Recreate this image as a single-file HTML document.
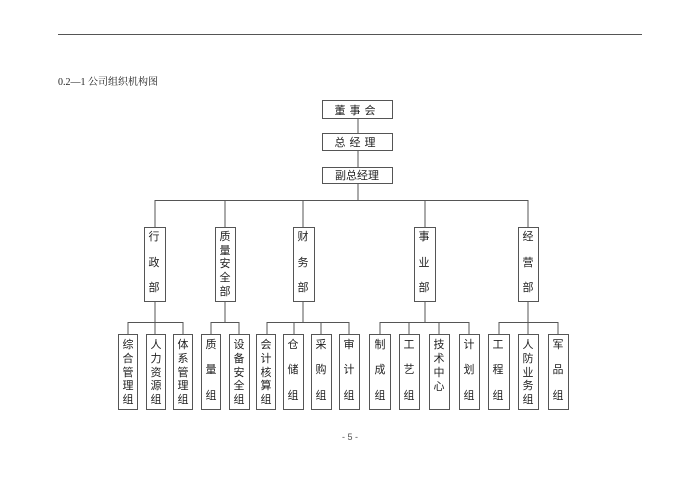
<!DOCTYPE html>
<html><head><meta charset="utf-8"><style>
html,body{margin:0;padding:0;background:#fff;}
svg{display:block;}
text{font-family:"Liberation Sans","Noto Sans CJK SC",sans-serif;fill:#222;}
.c{font-size:11px;text-anchor:middle;}
.r{font-size:6px;fill:#888;}
</style></head><body>
<svg width="700" height="494" viewBox="0 0 700 494" xmlns="http://www.w3.org/2000/svg">
<line x1="58" y1="34.5" x2="642" y2="34.5" stroke="#555" stroke-width="1"/>
<text x="58" y="85" style="font-size:10px;font-family:'Liberation Serif','Noto Serif CJK SC',serif">0.2—1 公司组织机构图</text>
<text x="350" y="440" style="font-size:9px;text-anchor:middle;fill:#555">- 5 -</text>

<g stroke="#555" stroke-width="1" fill="none">
<line x1="358" y1="118" x2="358" y2="133"/>
<line x1="358" y1="150" x2="358" y2="167"/>
<line x1="358" y1="183" x2="358" y2="200"/>
<line x1="155" y1="200.5" x2="528" y2="200.5"/>
<line x1="155" y1="200" x2="155" y2="227"/>
<line x1="225" y1="200" x2="225" y2="227"/>
<line x1="303" y1="200" x2="303" y2="227"/>
<line x1="425" y1="200" x2="425" y2="227"/>
<line x1="528" y1="200" x2="528" y2="227"/>
<line x1="155" y1="301" x2="155" y2="334"/>
<line x1="225" y1="301" x2="225" y2="322"/>
<line x1="303" y1="301" x2="303" y2="322"/>
<line x1="425" y1="301" x2="425" y2="322"/>
<line x1="528" y1="301" x2="528" y2="334"/>
<line x1="128" y1="322.5" x2="183" y2="322.5"/>
<line x1="211" y1="322.5" x2="239" y2="322.5"/>
<line x1="267" y1="322.5" x2="349" y2="322.5"/>
<line x1="380" y1="322.5" x2="469" y2="322.5"/>
<line x1="499" y1="322.5" x2="558" y2="322.5"/>
<line x1="128" y1="322" x2="128" y2="334"/>
<line x1="183" y1="322" x2="183" y2="334"/>
<line x1="211" y1="322" x2="211" y2="334"/>
<line x1="239" y1="322" x2="239" y2="334"/>
<line x1="267" y1="322" x2="267" y2="334"/>
<line x1="294" y1="322" x2="294" y2="334"/>
<line x1="321" y1="322" x2="321" y2="334"/>
<line x1="349" y1="322" x2="349" y2="334"/>
<line x1="380" y1="322" x2="380" y2="334"/>
<line x1="409" y1="322" x2="409" y2="334"/>
<line x1="439" y1="322" x2="439" y2="334"/>
<line x1="469" y1="322" x2="469" y2="334"/>
<line x1="499" y1="322" x2="499" y2="334"/>
<line x1="558" y1="322" x2="558" y2="334"/>

<rect x="322.5" y="100.5" width="70" height="18"/>
<rect x="322.5" y="133.5" width="70" height="17"/>
<rect x="322.5" y="167.5" width="70" height="16"/>

<rect x="144.5" y="227.5" width="21" height="74"/>
<rect x="215.5" y="227.5" width="20" height="74"/>
<rect x="293.5" y="227.5" width="21" height="74"/>
<rect x="414.5" y="227.5" width="21" height="74"/>
<rect x="518.5" y="227.5" width="20" height="74"/>

<rect x="118.5" y="334.5" width="19" height="75"/>
<rect x="146.5" y="334.5" width="19" height="75"/>
<rect x="173.5" y="334.5" width="19" height="75"/>
<rect x="201.5" y="334.5" width="19" height="75"/>
<rect x="229.5" y="334.5" width="20" height="75"/>
<rect x="256.5" y="334.5" width="19" height="75"/>
<rect x="283.5" y="334.5" width="20" height="75"/>
<rect x="311.5" y="334.5" width="20" height="75"/>
<rect x="339.5" y="334.5" width="20" height="75"/>
<rect x="369.5" y="334.5" width="21" height="75"/>
<rect x="399.5" y="334.5" width="20" height="75"/>
<rect x="429.5" y="334.5" width="20" height="75"/>
<rect x="459.5" y="334.5" width="20" height="75"/>
<rect x="488.5" y="334.5" width="21" height="75"/>
<rect x="518.5" y="334.5" width="20" height="75"/>
<rect x="548.5" y="334.5" width="20" height="75"/>
</g>

<text class="c" x="357" y="114" style="letter-spacing:4px">董事会</text>
<text class="c" x="357" y="146" style="letter-spacing:4px">总经理</text>
<text class="c" x="357" y="179">副总经理</text>

<!-- dept 3-char -->
<g class="c">
<text class="c" x="154" y="240">行</text><text class="c" x="154" y="266">政</text><text class="c" x="154" y="291">部</text>
<text class="c" x="225" y="240">质</text><text class="c" x="225" y="254">量</text><text class="c" x="225" y="267">安</text><text class="c" x="225" y="281">全</text><text class="c" x="225" y="295">部</text>
<text class="c" x="303" y="240">财</text><text class="c" x="303" y="266">务</text><text class="c" x="303" y="291">部</text>
<text class="c" x="424" y="240">事</text><text class="c" x="424" y="266">业</text><text class="c" x="424" y="291">部</text>
<text class="c" x="528" y="240">经</text><text class="c" x="528" y="266">营</text><text class="c" x="528" y="291">部</text>
</g>

<!-- sub 5-char -->
<text class="c" x="128" y="348">综</text><text class="c" x="128" y="362">合</text><text class="c" x="128" y="376">管</text><text class="c" x="128" y="389">理</text><text class="c" x="128" y="403">组</text>
<text class="c" x="156" y="348">人</text><text class="c" x="156" y="362">力</text><text class="c" x="156" y="376">资</text><text class="c" x="156" y="389">源</text><text class="c" x="156" y="403">组</text>
<text class="c" x="183" y="348">体</text><text class="c" x="183" y="362">系</text><text class="c" x="183" y="376">管</text><text class="c" x="183" y="389">理</text><text class="c" x="183" y="403">组</text>
<text class="c" x="239" y="348">设</text><text class="c" x="239" y="362">备</text><text class="c" x="239" y="376">安</text><text class="c" x="239" y="389">全</text><text class="c" x="239" y="403">组</text>
<text class="c" x="266" y="348">会</text><text class="c" x="266" y="362">计</text><text class="c" x="266" y="376">核</text><text class="c" x="266" y="389">算</text><text class="c" x="266" y="403">组</text>
<text class="c" x="528" y="348">人</text><text class="c" x="528" y="362">防</text><text class="c" x="528" y="376">业</text><text class="c" x="528" y="389">务</text><text class="c" x="528" y="403">组</text>
<text class="c" x="439" y="348">技</text><text class="c" x="439" y="362">术</text><text class="c" x="439" y="376">中</text><text class="c" x="439" y="390">心</text>

<!-- sub 3-char -->
<text class="c" x="211" y="348">质</text><text class="c" x="211" y="373">量</text><text class="c" x="211" y="399">组</text>
<text class="c" x="293" y="348">仓</text><text class="c" x="293" y="373">储</text><text class="c" x="293" y="399">组</text>
<text class="c" x="321" y="348">采</text><text class="c" x="321" y="373">购</text><text class="c" x="321" y="399">组</text>
<text class="c" x="349" y="348">审</text><text class="c" x="349" y="373">计</text><text class="c" x="349" y="399">组</text>
<text class="c" x="380" y="348">制</text><text class="c" x="380" y="373">成</text><text class="c" x="380" y="399">组</text>
<text class="c" x="409" y="348">工</text><text class="c" x="409" y="373">艺</text><text class="c" x="409" y="399">组</text>
<text class="c" x="469" y="348">计</text><text class="c" x="469" y="373">划</text><text class="c" x="469" y="399">组</text>
<text class="c" x="498" y="348">工</text><text class="c" x="498" y="373">程</text><text class="c" x="498" y="399">组</text>
<text class="c" x="558" y="348">军</text><text class="c" x="558" y="373">品</text><text class="c" x="558" y="399">组</text>
</svg>
</body></html>
